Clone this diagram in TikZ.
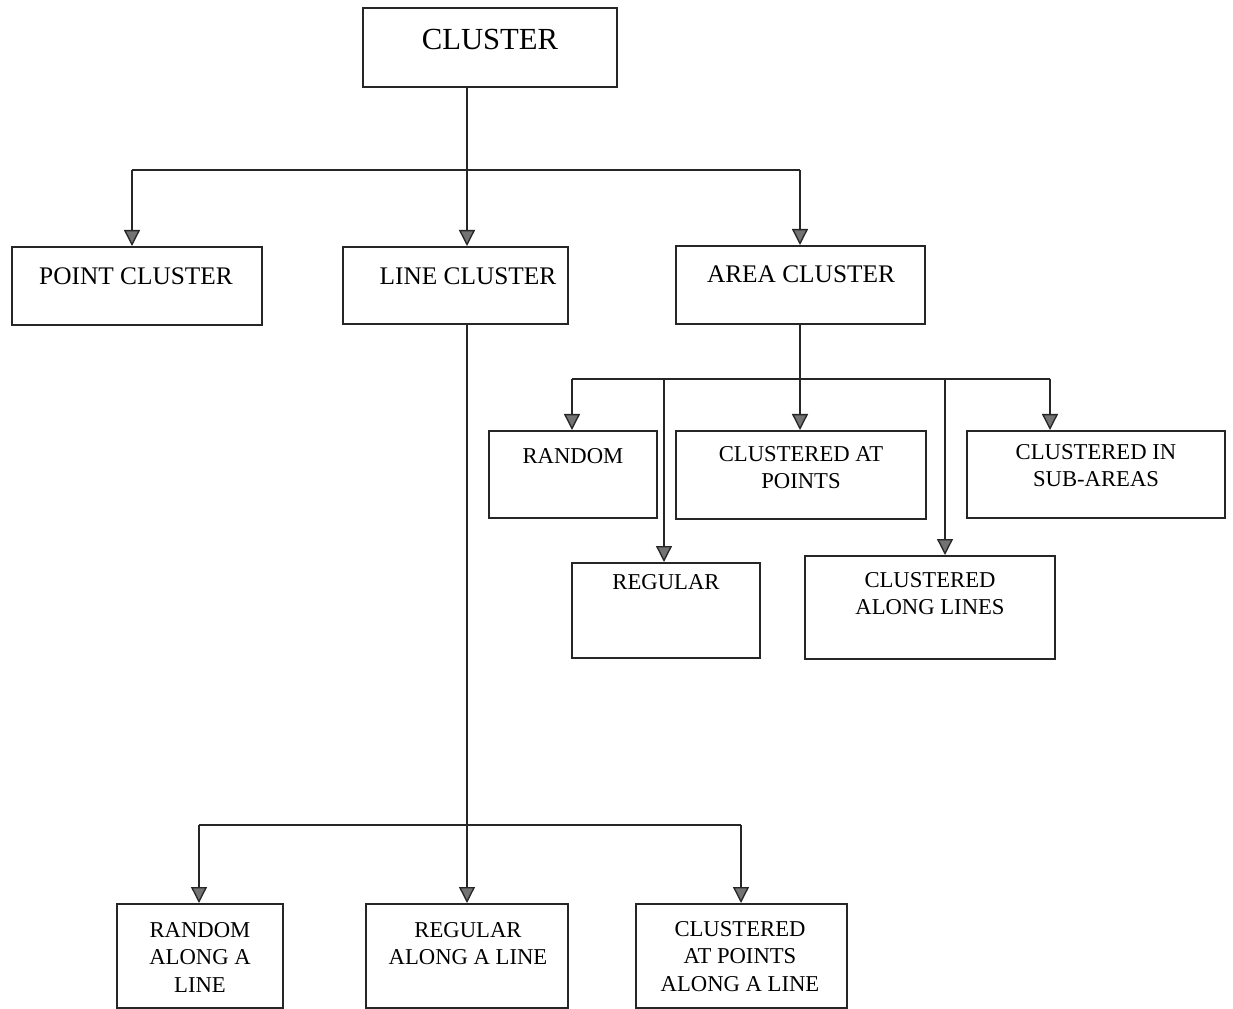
\documentclass[tikz,border=0pt]{standalone}
\usepackage{fontspec}
\setmainfont{Liberation Serif}
\usetikzlibrary{arrows.meta,fit}
\begin{document}
\begin{tikzpicture}[x=0.75pt,y=-0.75pt,
  box/.style={draw=black!85,line width=1.5pt,inner sep=0pt,fit={#1}},
  lbl/.style={anchor=north,inner sep=0pt,align=center,font=\fontsize{17}{20.6}\selectfont},
  lblA/.style={anchor=north,inner sep=0pt,align=center,font=\fontsize{19}{22}\selectfont},
  lblT/.style={anchor=north,inner sep=0pt,align=center,font=\fontsize{23}{26}\selectfont},
  wire/.style={draw=black!85,line width=1.5pt},
  arr/.style={wire,-{Triangle[length=12pt,width=12pt,fill=black!55,line width=1pt]}}]
\useasboundingbox[fill=white] (0,0) rectangle (1233,1009);

% boxes
\node[box={(363,8) (617,87)}] (cluster) {};
\node[box={(12,247) (262,325)}] (point) {};
\node[box={(343,247) (568,324)}] (line) {};
\node[box={(676,246) (925,324)}] (area) {};
\node[box={(489,431) (657,518)}] (random) {};
\node[box={(676,431) (926,519)}] (catpoints) {};
\node[box={(967,431) (1225,518)}] (subareas) {};
\node[box={(572,563) (760,658)}] (regular) {};
\node[box={(805,556) (1055,659)}] (alonglines) {};
\node[box={(117,904) (283,1008)}] (ralong) {};
\node[box={(366,904) (568,1008)}] (regalong) {};
\node[box={(636,904) (847,1008)}] (cpalong) {};

% labels
\node[lblT] (tcluster) at (490,29) {CLUSTER};
\node[lblA] (tpoint) at (136,267) {POINT CLUSTER};
\node[lblA] (tline) at (468,267) {LINE CLUSTER};
\node[lblA] (tarea) at (801,265) {AREA CLUSTER};
\node[lbl] (trandom) at (573,448) {RANDOM};
\node[lbl] (tcatpoints) at (801,446) {CLUSTERED AT\\POINTS};
\node[lbl] (tsubareas) at (1096,444) {CLUSTERED IN\\SUB-AREAS};
\node[lbl] (tregular) at (666,574) {REGULAR};
\node[lbl] (talonglines) at (930,572) {CLUSTERED\\ALONG LINES};
\node[lbl] (tralong) at (200,922) {RANDOM\\ALONG A\\LINE};
\node[lbl] (tregalong) at (468,922) {REGULAR\\ALONG A LINE};
\node[lbl] (tcpalong) at (740,921) {CLUSTERED\\AT POINTS\\ALONG A LINE};

% top level connectors
\coordinate (j1) at (467,170);
\coordinate (bL) at (132,170);
\coordinate (bR) at (800,170);
\draw[wire] (cluster.south -| j1) -- (j1);
\draw[wire] (bL) -- (bR);
\draw[arr] (bL) -- (bL |- point.north);
\draw[arr] (j1) -- (j1 |- line.north);
\draw[arr] (bR) -- (bR |- area.north);

% area cluster connectors
\coordinate (a0) at (800,379);
\coordinate (aL) at (572,379);
\coordinate (aR) at (1050,379);
\coordinate (aReg) at (664,379);
\coordinate (aAl) at (945,379);
\draw[wire] (a0 |- area.south) -- (a0);
\draw[wire] (aL) -- (aR);
\draw[arr] (aL) -- (aL |- random.north);
\draw[arr] (a0) -- (a0 |- catpoints.north);
\draw[arr] (aR) -- (aR |- subareas.north);
\draw[arr] (aReg) -- (aReg |- regular.north);
\draw[arr] (aAl) -- (aAl |- alonglines.north);

% line cluster connectors
\coordinate (l0) at (467,825);
\coordinate (lL) at (199,825);
\coordinate (lR) at (741,825);
\draw[wire] (l0 |- line.south) -- (l0);
\draw[wire] (lL) -- (lR);
\draw[arr] (lL) -- (lL |- ralong.north);
\draw[arr] (l0) -- (l0 |- regalong.north);
\draw[arr] (lR) -- (lR |- cpalong.north);
\end{tikzpicture}
\end{document}
